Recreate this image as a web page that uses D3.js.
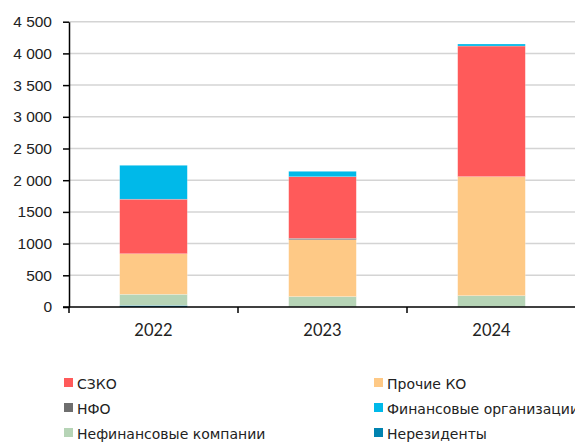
<!DOCTYPE html>
<html>
<head>
<meta charset="utf-8">
<script src="https://cdn.jsdelivr.net/npm/d3@7"></script>
<style>
    body { margin: 0; background: #fff; }
    svg { display: block; font-family: "Lato", "Open Sans", sans-serif; }
    .grid line { stroke: #d4d4d4; stroke-width: 1.5; }
    .axis path, .axis line { stroke: #000; stroke-width: 1.5; }
    .axis text { fill: #222; font-size: 15.5px; }
    .axis .xlab { font-size: 16.5px; }
    .legend text { fill: #222; font-size: 14px; font-family: "DejaVu Sans", sans-serif; }
</style>
</head>
<body>
<svg width="575" height="442"></svg>
<script>
var years = ["2022", "2023", "2024"];
var seriesNames = ["Нерезиденты", "Нефинансовые компании", "Прочие КО", "НФО", "СЗКО", "Финансовые организации"];
var nonResidents = [25, 4, 3];
var nonFinancial = [175, 160, 176];
var otherBanks = [640, 897, 1877];
var npf = [0, 22, 0];
var sib = [860, 972, 2060];
var financial = [535, 85, 32];
var colors = ["#0083b0", "#b6d4b6", "#fec986", "#6e6e6e", "#ff5a5a", "#00b9e9"];
var yTicks = [0, 500, 1000, 1500, 2000, 2500, 3000, 3500, 4000, 4500];
var yTickLabels = ["0", "500", "1000", "1500", "2 000", "2 500", "3 000", "3 500", "4 000", "4 500"];

// legend order: two columns, row by row
var legendOrder = [4, 2, 3, 5, 1, 0];

var svg = d3.select("svg");
var margin = { left: 69, right: -1, top: 21.7, bottom: 135 };
var width = 575, height = 442;

var rows = years.map(function (y, i) {
    return {
        year: y,
        s0: nonResidents[i], s1: nonFinancial[i], s2: otherBanks[i],
        s3: npf[i], s4: sib[i], s5: financial[i]
    };
});
var keys = ["s0", "s1", "s2", "s3", "s4", "s5"];
var stacked = d3.stack().keys(keys)(rows);

var x = d3.scaleBand().domain(years)
    .range([margin.left, width - margin.right])
    .padding(0);
var y = d3.scaleLinear().domain([0, 4500])
    .range([height - margin.bottom, margin.top]);

// gridlines
svg.append("g").attr("class", "grid")
    .selectAll("line").data(yTicks.slice(1)).enter().append("line")
    .attr("x1", margin.left).attr("x2", width)
    .attr("y1", function (d) { return y(d); })
    .attr("y2", function (d) { return y(d); });

// bars
var barW = x.bandwidth() * 0.4;
svg.append("g").selectAll("g")
    .data(stacked).enter().append("g")
    .attr("fill", function (d, i) { return colors[i]; })
    .selectAll("rect").data(function (d) { return d; }).enter().append("rect")
    .attr("x", function (d) { return x(d.data.year) + (x.bandwidth() - barW) / 2; })
    .attr("width", barW)
    .attr("y", function (d) { return y(d[1]); })
    .attr("height", function (d) { return y(d[0]) - y(d[1]); })
    .attr("stroke", "#fff")
    .attr("stroke-opacity", 0.35)
    .attr("stroke-width", 0.6);

// y axis
var yAxis = d3.axisLeft(y).tickValues(yTicks)
    .tickFormat(function (d, i) { return yTickLabels[i]; })
    .tickSize(6).tickSizeOuter(0).tickPadding(11);
svg.append("g").attr("class", "axis")
    .attr("transform", "translate(" + margin.left + ",0)")
    .call(yAxis);

// x axis
var xAxisG = svg.append("g").attr("class", "axis")
    .attr("transform", "translate(0," + y(0) + ")");
xAxisG.append("line").attr("x1", margin.left - 6).attr("x2", width);
xAxisG.selectAll(".tk").data(years.slice(1)).enter().append("line")
    .attr("class", "tk")
    .attr("x1", function (d) { return x(d); }).attr("x2", function (d) { return x(d); })
    .attr("y1", 0).attr("y2", 6);
xAxisG.append("line").attr("x1", margin.left).attr("x2", margin.left).attr("y1", 0).attr("y2", 6);
xAxisG.selectAll("text").data(years).enter().append("text")
    .attr("class", "xlab")
    .attr("x", function (d) { return x(d) + x.bandwidth() / 2; })
    .attr("y", 29)
    .attr("text-anchor", "middle")
    .text(function (d) { return d; });

// legend
var legend = svg.append("g").attr("class", "legend");
var item = legend.selectAll("g").data(legendOrder).enter().append("g")
    .attr("transform", function (d, i) {
        var col = i % 2, row = Math.floor(i / 2);
        return "translate(" + (col ? 374 : 64) + "," + (378 + row * 25) + ")";
    });
item.append("rect").attr("width", 9).attr("height", 9)
    .attr("fill", function (d) { return colors[d]; });
item.append("text").attr("x", 13).attr("y", 11)
    .text(function (d) { return seriesNames[d]; });
</script>
</body>
</html>
